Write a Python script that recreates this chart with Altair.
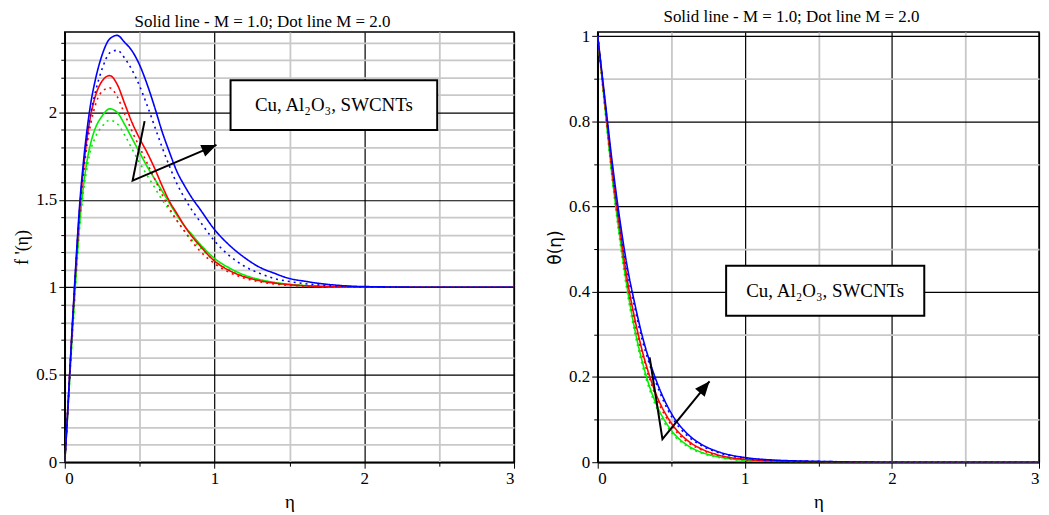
import altair as alt
import pandas as pd

# ---------------- data: f'(eta) ----------------
eta_f = [0, 0.02, 0.04, 0.06, 0.08, 0.1, 0.125, 0.15, 0.175, 0.2, 0.25, 0.3, 0.35, 0.4, 0.45,
         0.5, 0.55, 0.6, 0.65, 0.7, 0.75, 0.8, 0.85, 0.9, 1.0, 1.1, 1.2, 1.3, 1.4, 1.5,
         1.6, 1.7, 1.8, 2.0, 2.5, 3.0]

fp_swcnt_m1 = [0, 0.30, 0.62, 0.93, 1.22, 1.48, 1.72, 1.91, 2.06, 2.17, 2.33, 2.42, 2.44, 2.40, 2.35,
               2.27, 2.16, 2.03, 1.89, 1.77, 1.66, 1.58, 1.51, 1.45, 1.33, 1.24, 1.17, 1.115, 1.08, 1.05,
               1.035, 1.022, 1.013, 1.004, 1.0, 1.0]
fp_swcnt_m2 = [0, 0.30, 0.62, 0.92, 1.20, 1.45, 1.68, 1.86, 2.00, 2.10, 2.25, 2.34, 2.355, 2.31, 2.24,
               2.15, 2.04, 1.92, 1.80, 1.69, 1.59, 1.51, 1.44, 1.38, 1.265, 1.18, 1.12, 1.08, 1.05, 1.033,
               1.021, 1.013, 1.008, 1.002, 1.0, 1.0]
fp_al2o3_m1 = [0, 0.30, 0.62, 0.92, 1.20, 1.45, 1.68, 1.86, 1.99, 2.08, 2.18, 2.21, 2.16, 2.05, 1.94,
               1.85, 1.77, 1.68, 1.58, 1.49, 1.42, 1.35, 1.29, 1.24, 1.15, 1.095, 1.06, 1.038, 1.024, 1.015,
               1.009, 1.005, 1.003, 1.001, 1.0, 1.0]
fp_al2o3_m2 = [0, 0.30, 0.61, 0.91, 1.18, 1.43, 1.65, 1.82, 1.94, 2.03, 2.12, 2.14, 2.09, 1.99, 1.89,
               1.80, 1.71, 1.62, 1.53, 1.45, 1.38, 1.32, 1.26, 1.21, 1.135, 1.085, 1.052, 1.032, 1.019, 1.011,
               1.006, 1.003, 1.002, 1.0, 1.0, 1.0]
fp_cu_m1 = [0, 0.28, 0.58, 0.86, 1.13, 1.37, 1.58, 1.73, 1.83, 1.90, 1.98, 2.02, 2.00, 1.93, 1.85,
            1.77, 1.69, 1.62, 1.55, 1.48, 1.41, 1.35, 1.30, 1.25, 1.165, 1.11, 1.07, 1.045, 1.028, 1.017,
            1.01, 1.006, 1.003, 1.001, 1.0, 1.0]
fp_cu_m2 = [0, 0.28, 0.57, 0.85, 1.11, 1.35, 1.55, 1.69, 1.79, 1.85, 1.92, 1.955, 1.935, 1.87, 1.79,
            1.71, 1.64, 1.57, 1.50, 1.44, 1.38, 1.32, 1.27, 1.23, 1.15, 1.10, 1.062, 1.038, 1.023, 1.014,
            1.008, 1.004, 1.002, 1.0, 1.0, 1.0]

# ---------------- data: theta(eta) ----------------
eta_t = [0, 0.05, 0.1, 0.15, 0.2, 0.25, 0.3, 0.35, 0.4, 0.5, 0.6, 0.7, 0.8, 0.9, 1.0, 1.2, 1.5, 2.0, 2.5, 3.0]

th_swcnt_m1 = [1, 0.85, 0.70, 0.57, 0.46, 0.375, 0.30, 0.24, 0.19, 0.115, 0.07, 0.043, 0.027, 0.017, 0.011, 0.005, 0.002, 0, 0, 0]
th_swcnt_m2 = [1, 0.845, 0.69, 0.56, 0.45, 0.365, 0.29, 0.232, 0.183, 0.108, 0.065, 0.04, 0.025, 0.015, 0.01, 0.004, 0.002, 0, 0, 0]
th_al2o3_m1 = [1, 0.84, 0.68, 0.55, 0.43, 0.34, 0.265, 0.205, 0.157, 0.092, 0.054, 0.032, 0.019, 0.011, 0.007, 0.003, 0.001, 0, 0, 0]
th_al2o3_m2 = [1, 0.835, 0.675, 0.54, 0.42, 0.33, 0.257, 0.198, 0.15, 0.087, 0.05, 0.03, 0.017, 0.01, 0.006, 0.003, 0.001, 0, 0, 0]
th_cu_m1 = [1, 0.83, 0.665, 0.53, 0.41, 0.315, 0.24, 0.18, 0.135, 0.075, 0.042, 0.024, 0.014, 0.008, 0.005, 0.002, 0.001, 0, 0, 0]
th_cu_m2 = [1, 0.825, 0.66, 0.52, 0.40, 0.307, 0.232, 0.173, 0.128, 0.07, 0.039, 0.022, 0.013, 0.007, 0.004, 0.002, 0.001, 0, 0, 0]

fluids = ["Cu", "Al2O3", "SWCNTs"]
fluid_colors = ["#00ee00", "#ff0000", "#0000ff"]
m_labels = ["M = 1.0", "M = 2.0"]

# annotations (data coordinates)
label_text = "Cu, Al\u2082O\u2083, SWCNTs"
left_box = dict(x=1.107, x2=2.487, y=2.184, y2=1.899)
left_arrow_x = [0.533, 0.453, 1.013]
left_arrow_y = [1.95, 1.61, 1.814]
right_box = dict(x=0.873, x2=2.22, y=0.461, y2=0.344)
right_arrow_x = [0.353, 0.44, 0.76]
right_arrow_y = [0.246, 0.054, 0.19]

title_text = "Solid line - M = 1.0; Dot line M = 2.0"


def long_df(etas, series):
    rows = []
    for (fluid, m), vals in series.items():
        for e, v in zip(etas, vals):
            rows.append({"x": e, "y": v, "fluid": fluid, "M": m})
    return pd.DataFrame(rows)


df_f = long_df(eta_f, {
    ("Cu", "M = 1.0"): fp_cu_m1, ("Cu", "M = 2.0"): fp_cu_m2,
    ("Al2O3", "M = 1.0"): fp_al2o3_m1, ("Al2O3", "M = 2.0"): fp_al2o3_m2,
    ("SWCNTs", "M = 1.0"): fp_swcnt_m1, ("SWCNTs", "M = 2.0"): fp_swcnt_m2,
})
df_t = long_df(eta_t, {
    ("Cu", "M = 1.0"): th_cu_m1, ("Cu", "M = 2.0"): th_cu_m2,
    ("Al2O3", "M = 1.0"): th_al2o3_m1, ("Al2O3", "M = 2.0"): th_al2o3_m2,
    ("SWCNTs", "M = 1.0"): th_swcnt_m1, ("SWCNTs", "M = 2.0"): th_swcnt_m2,
})

SERIF = "Liberation Serif"


def major_test(k):
    return f"abs(datum.value*{k} - round(datum.value*{k})) < 1e-6"


def make_axis(values, k, title, title_font=SERIF, title_size=16, title_pad=4):
    t = major_test(k)
    return alt.Axis(
        values=values,
        labelExpr=f"{t} ? '' + datum.value : ''",
        gridColor={"condition": {"test": t, "value": "#000000"}, "value": "#c8c8c8"},
        gridWidth={"condition": {"test": t, "value": 1.2}, "value": 1.8},
        tickSize={"condition": {"test": t, "value": 6}, "value": 4},
        title=title,
        titleFont=title_font,
        titleFontSize=title_size,
        titlePadding=title_pad,
    )


def panel(df, ydom, yvals, yk, ytitle, ytitle_font, ytitle_size, box, ax, ay, head_angle, w, h):
    xs = alt.Scale(domain=[0, 3], nice=False, zero=False)
    ys = alt.Scale(domain=ydom, nice=False, zero=False)
    xaxis = make_axis([0, 0.5, 1, 1.5, 2, 2.5, 3], 1, "η", title_size=19, title_pad=6)
    yaxis = make_axis(yvals, yk, ytitle, title_font=ytitle_font, title_size=ytitle_size, title_pad=4)
    X = alt.X("x:Q", scale=xs, axis=xaxis)
    Y = alt.Y("y:Q", scale=ys, axis=yaxis)

    lines = alt.Chart(df).mark_line(interpolate="monotone", strokeWidth=1.6, clip=True).encode(
        x=X, y=Y,
        color=alt.Color("fluid:N", scale=alt.Scale(domain=fluids, range=fluid_colors), legend=None),
        strokeDash=alt.StrokeDash("M:N", scale=alt.Scale(domain=m_labels, range=[[1, 0], [2, 4]]), legend=None),
        detail="M:N",
    )
    bdf = pd.DataFrame([box])
    rect = alt.Chart(bdf).mark_rect(fill="white", stroke="black", strokeWidth=2).encode(
        x=X, x2="x2:Q", y=Y, y2="y2:Q")
    tdf = pd.DataFrame([{"x": (box["x"] + box["x2"]) / 2, "y": (box["y"] + box["y2"]) / 2, "t": label_text}])
    text = alt.Chart(tdf).mark_text(font=SERIF, fontSize=19, color="black", align="center",
                                    baseline="middle").encode(x=X, y=Y, text="t:N")
    adf = pd.DataFrame({"x": ax, "y": ay, "o": [0, 1, 2]})
    arrow = alt.Chart(adf).mark_line(color="black", strokeWidth=2).encode(x=X, y=Y, order="o:Q")
    hdf = pd.DataFrame({"x": [ax[-1]], "y": [ay[-1]]})
    head = alt.Chart(hdf).mark_point(shape="M0,0L0.42,1L-0.42,1Z", filled=True, color="black",
                                     opacity=1, size=900, angle=head_angle).encode(x=X, y=Y)
    return alt.layer(lines, rect, text, arrow, head).properties(
        width=w, height=h,
        title=alt.Title(title_text, font=SERIF, fontSize=17, fontWeight="normal", color="black",
                        offset=1, dx=-27),
    )


left = panel(df_f, [0, 2.46], [round(i * 0.1, 1) for i in range(25)], 2, "f '(η)", SERIF, 18,
             left_box, left_arrow_x, left_arrow_y, 67, 451, 432)
right = panel(df_t, [0, 1.01], [round(i * 0.1, 1) for i in range(11)], 5, "θ(η)", "DejaVu Sans", 17,
              right_box, right_arrow_x, right_arrow_y, 40, 443, 432)

chart = alt.hconcat(left, right, spacing=30).properties(
    padding={"left": 5, "top": -2, "right": 0, "bottom": 0}
).configure_view(stroke="black", strokeWidth=1.5).configure_axis(
    labelFont=SERIF, labelFontSize=17, labelColor="black", labelPadding=2,
    titleColor="black", titleFontWeight="normal",
    domainColor="black", domainWidth=1.5, tickColor="black", grid=True,
).configure_title(anchor="middle")

chart.save("out.html", embed_options={"renderer": "svg", "actions": False})
